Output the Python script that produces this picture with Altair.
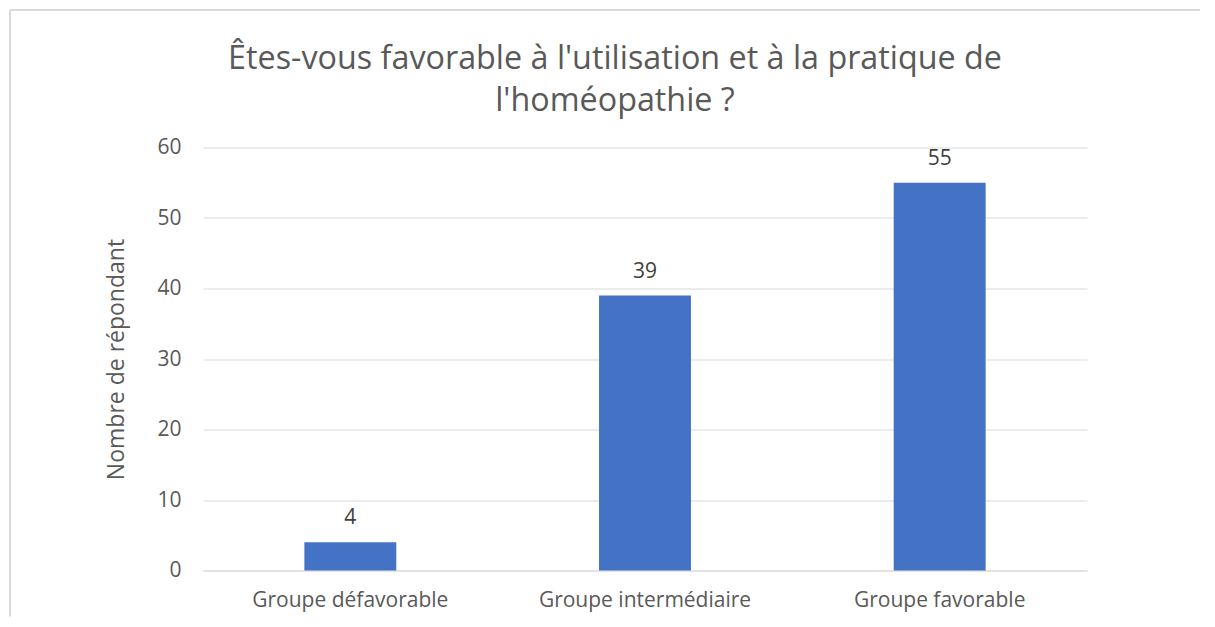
import altair as alt
import pandas as pd

categories = ["Groupe défavorable", "Groupe intermédiaire", "Groupe favorable"]
values = [4, 39, 55]
y_ticks = [0, 10, 20, 30, 40, 50, 60]
title_lines = ["Êtes-vous favorable à l'utilisation et à la pratique de", "l'homéopathie ?"]
y_title = "Nombre de répondant"

df = pd.DataFrame({"cat": categories, "val": values})
one = alt.Data(values=[{"k": 1}])

FONT = "Open Sans"
W, H = 884, 423
PL, PT = 195, 139.5
PR = 1192 - PL - W
PB = 46

x_enc = alt.X("cat:N", sort=categories, title=None,
              scale=alt.Scale(paddingInner=0.688, paddingOuter=0.344),
              axis=alt.Axis(labelAngle=0, labelFontSize=21, labelColor="#595959",
                            labelFont=FONT, ticks=False, domain=True, labelLimit=0,
                            domainColor="#d9d9d9", domainWidth=1.2,
                            labelPadding=19, grid=False))
y_enc = alt.Y("val:Q", title=y_title,
              scale=alt.Scale(domain=[0, 60], nice=False),
              axis=alt.Axis(values=y_ticks, labelFontSize=21, labelColor="#595959",
                            labelFont=FONT, ticks=False, domain=False,
                            gridColor="#d9d9d9", gridWidth=1.2, labelPadding=22,
                            titleFont=FONT, titleFontSize=23, titleColor="#595959",
                            titleFontWeight="normal", titlePadding=28))

bars = alt.Chart(df).mark_bar(color="#4472C4").encode(x=x_enc, y=y_enc)
labels = alt.Chart(df).mark_text(font=FONT, fontSize=21, color="#404040",
                                 baseline="alphabetic", dy=-18).encode(
    x=alt.X("cat:N", sort=categories), y="val:Q", text="val:Q")

title = alt.Chart(one).mark_text(text=title_lines, font=FONT, fontSize=32.3,
                                 color="#595959", align="center", fontWeight="normal",
                                 baseline="alphabetic", lineHeight=42).encode(
    x=alt.value(412), y=alt.value(69 - 147.5))

border_top = alt.Chart(one).mark_rule(color="#d9d9d9", strokeWidth=2).encode(
    x=alt.value(-PL + 2), x2=alt.value(W + PR), y=alt.value(-PT + 2))
border_left = alt.Chart(one).mark_rule(color="#d9d9d9", strokeWidth=2).encode(
    x=alt.value(-PL + 2), y=alt.value(-PT + 2), y2=alt.value(H + PB))

chart = alt.layer(bars, labels, title, border_top, border_left).properties(
    width=W, height=H,
    background="white",
    autosize=alt.AutoSizeParams(type="none"),
    padding={"left": PL, "top": PT, "right": PR, "bottom": PB},
).configure_view(strokeWidth=0)

chart.save("out.html", embed_options={"renderer": "svg", "actions": False})
